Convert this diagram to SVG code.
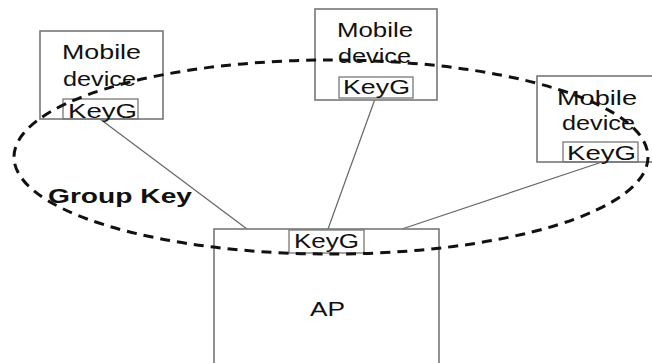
<svg xmlns="http://www.w3.org/2000/svg" width="652" height="363" viewBox="0 0 652 363">
<style>
.box{fill:#fff;stroke:#777;stroke-width:1.6}
.key{fill:none;stroke:#777;stroke-width:1.3}
.t{font-family:"Liberation Sans",Arial,sans-serif;font-size:21px;fill:#111}
.ln{stroke:#666;stroke-width:1.2;fill:none}
</style>
<rect width="652" height="363" fill="#fff"/>
<g id="connectors">
<line class="ln" x1="100" y1="119" x2="247" y2="229"/>
<line class="ln" x1="375" y1="99" x2="328" y2="229"/>
<line class="ln" x1="602" y1="162" x2="402" y2="229"/>
</g>
<g id="dev1">
<rect class="box" x="40" y="31" width="123" height="88"/>
<text class="t" x="62" y="59" textLength="79" lengthAdjust="spacingAndGlyphs">Mobile</text>
<text class="t" x="63" y="86" textLength="73" lengthAdjust="spacingAndGlyphs">device</text>
<rect class="key" x="63" y="99" width="75" height="20"/>
<text class="t" x="68" y="118" textLength="69" lengthAdjust="spacingAndGlyphs">KeyG</text>
</g>
<g id="dev2">
<rect class="box" x="315" y="9" width="122" height="91"/>
<text class="t" x="337" y="37" textLength="76" lengthAdjust="spacingAndGlyphs">Mobile</text>
<text class="t" x="338" y="63" textLength="73" lengthAdjust="spacingAndGlyphs">device</text>
<rect class="key" x="339" y="77" width="74" height="21"/>
<text class="t" x="343" y="94" textLength="67" lengthAdjust="spacingAndGlyphs">KeyG</text>
</g>
<g id="dev3">
<rect class="box" x="537" y="76" width="118" height="86"/>
<text class="t" x="557" y="105" textLength="80" lengthAdjust="spacingAndGlyphs">Mobile</text>
<text class="t" x="562" y="130" textLength="73" lengthAdjust="spacingAndGlyphs">device</text>
<rect class="key" x="563" y="142" width="75" height="20"/>
<text class="t" x="567" y="160" textLength="69" lengthAdjust="spacingAndGlyphs">KeyG</text>
</g>
<g id="ap">
<rect class="box" x="214" y="229" width="225" height="136"/>
<rect class="key" x="289" y="230" width="75" height="23"/>
<text class="t" x="294" y="248" textLength="65" lengthAdjust="spacingAndGlyphs">KeyG</text>
<text class="t" x="310" y="316" font-size="25" textLength="35" lengthAdjust="spacingAndGlyphs">AP</text>
</g>
<g id="group">
<ellipse cx="331" cy="157" rx="317" ry="97" fill="none" stroke="#111" stroke-width="3" stroke-dasharray="10,7"/>
<text x="48" y="203" font-family="Liberation Sans,Arial,sans-serif" font-size="21" font-weight="bold" fill="#111" textLength="144" lengthAdjust="spacingAndGlyphs">Group Key</text>
</g>
</svg>
